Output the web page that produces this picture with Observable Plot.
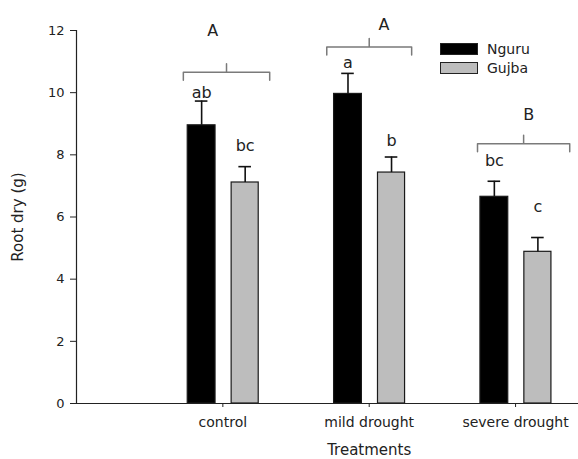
<!DOCTYPE html>
<html><head><meta charset="utf-8">
<script src="https://cdn.jsdelivr.net/npm/d3@7"></script>
<script src="https://cdn.jsdelivr.net/npm/@observablehq/plot@0.6"></script>
<style>
body{margin:0;background:#fff;}
#wrap{position:relative;width:578px;height:459px;font-family:"DejaVu Sans",sans-serif;}
#wrap svg{font-family:"DejaVu Sans",sans-serif;}
.legend{position:absolute;left:440px;top:39px;font-size:14px;color:#222;line-height:1}
.row{display:flex;align-items:center;height:19px}
.sw{width:36px;height:10px;border:1px solid #222;margin-right:9px;box-sizing:content-box}
</style></head><body><div id="wrap"></div>
<script>
const categories = ["control", "mild drought", "severe drought"];
const seriesNames = ["Nguru", "Gujba"];
const seriesColors = ["#000000", "#bdbdbd"];
const nguruMean = [8.95, 9.96, 6.65];
const nguruTop = [9.73, 10.62, 7.15];
const gujbaMean = [7.11, 7.43, 4.88];
const gujbaTop = [7.62, 7.93, 5.34];
const nguruLetters = ["ab", "a", "bc"];
const gujbaLetters = ["bc", "b", "c"];
const nguruLetterY = [9.99, 10.95, 7.8];
const gujbaLetterY = [8.3, 8.45, 6.33];
const groupLetters = ["A", "A", "B"];
const groupLetterX = [0.93, 2.10, 3.09];
const groupLetterY = [11.98, 12.17, 9.28];
const bracketY = [10.66, 11.47, 8.36];
const bracketFrom = [0.73, 1.71, 2.74];
const bracketTo = [1.32, 2.29, 3.37];
const yTicks = [0, 2, 4, 6, 8, 10, 12];

const offsets = {Nguru: [-0.24, -0.05], Gujba: [0.06, 0.245]};
const rows = [];
categories.forEach((c, k) => {
  rows.push({cat: c, i: k + 1, series: "Nguru", mean: nguruMean[k], top: nguruTop[k], letter: nguruLetters[k], ly: nguruLetterY[k]});
  rows.push({cat: c, i: k + 1, series: "Gujba", mean: gujbaMean[k], top: gujbaTop[k], letter: gujbaLetters[k], ly: gujbaLetterY[k]});
});
const x1 = d => d.i + offsets[d.series][0];
const x2 = d => d.i + offsets[d.series][1];
const xc = d => (x1(d) + x2(d)) / 2;

// bracket paths
const bracketPts = [];
categories.forEach((c, k) => {
  const a = bracketFrom[k], b = bracketTo[k], y = bracketY[k], m = (a + b) / 2;
  const drop = 0.26, rise = 0.27;
  [[a, y - drop], [a, y], [m, y], [m, y + rise], [m, y], [b, y], [b, y - drop]]
    .forEach(([px, py]) => bracketPts.push({g: k, x: px, y: py}));
});
const groups = categories.map((c, k) => ({letter: groupLetters[k], x: groupLetterX[k], y: groupLetterY[k]}));

const chart = Plot.plot({
  width: 578, height: 459,
  marginLeft: 76, marginRight: 0, marginTop: 30, marginBottom: 56,
  x: {type: "linear", domain: [0, 3.43]},
  y: {domain: [0, 12]},
  color: {domain: seriesNames, range: seriesColors},
  marks: [
    Plot.rect(rows, {x1, x2, y1: 0, y2: "mean", fill: "series", stroke: "#1a1a1a", strokeWidth: 1.2}),
    Plot.ruleX(rows, {x: xc, y1: "mean", y2: "top", stroke: "#111", strokeWidth: 1.6}),
    Plot.ruleY(rows, {y: "top", x1: d => xc(d) - 0.043, x2: d => xc(d) + 0.043, stroke: "#111", strokeWidth: 1.6}),
    Plot.text(rows, {x: xc, y: "ly", text: "letter", fontSize: 16, fill: "#222"}),
    Plot.line(bracketPts, {x: "x", y: "y", z: "g", stroke: "#7a7a7a", strokeWidth: 1.5, strokeLinejoin: "round"}),
    Plot.text(groups, {x: "x", y: "y", text: "letter", fontSize: 16, fill: "#222"}),
    Plot.ruleX([0], {y1: 0, y2: 12, stroke: "#222", strokeWidth: 1.2}),
    Plot.ruleY([0], {x1: 0, x2: 3.43, stroke: "#222", strokeWidth: 1.2}),
    Plot.axisY({ticks: yTicks, tickSize: 6, tickPadding: 6, fontSize: 13, label: null, stroke: "#222", fill: "#222"}),
    Plot.axisX({ticks: [1, 2, 3], tickFormat: i => categories[i - 1], tickSize: 4, tickPadding: 10, fontSize: 14, label: null, stroke: "#222", fill: "#222"}),
    Plot.text(["Treatments"], {x: 2, frameAnchor: "bottom", lineAnchor: "bottom", dy: 51, fontSize: 15, fill: "#222"}),
    Plot.text(["Root dry (g)"], {frameAnchor: "left", textAnchor: "middle", lineAnchor: "middle", dx: -58, rotate: -90, fontSize: 15, fill: "#222"})
  ]
});
const wrap = document.getElementById("wrap");
wrap.appendChild(chart);
const leg = document.createElement("div");
leg.className = "legend";
seriesNames.forEach((n, k) => {
  const r = document.createElement("div"); r.className = "row";
  const s = document.createElement("span"); s.className = "sw"; s.style.background = seriesColors[k];
  const t = document.createElement("span"); t.textContent = n;
  r.appendChild(s); r.appendChild(t); leg.appendChild(r);
});
wrap.appendChild(leg);
</script></body></html>
